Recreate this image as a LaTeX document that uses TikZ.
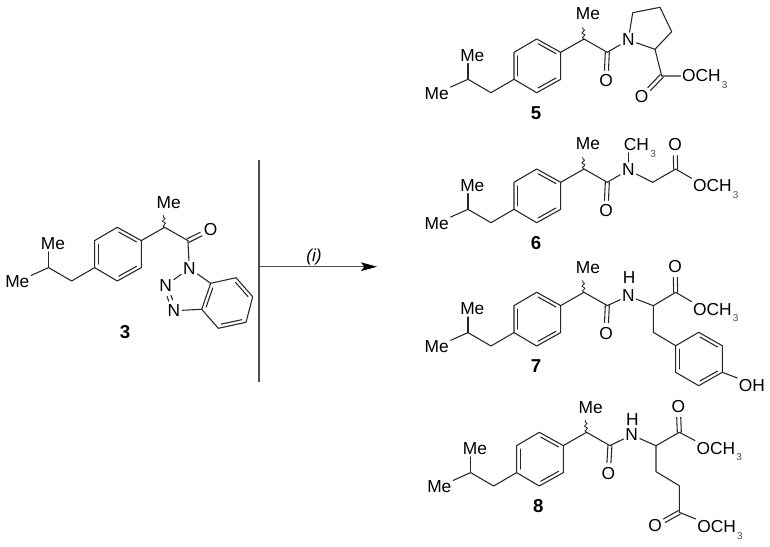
\documentclass[tikz,border=0pt]{standalone}
\usepackage{fontspec}
\setmainfont{Liberation Sans}
\usetikzlibrary{calc,arrows.meta,decorations.pathmorphing}
\tikzset{
  x=0.75pt,y=-0.75pt,
  bond/.style={draw=black!85,line width=0.8pt,line cap=round,line join=round},
  atom/.style={font=\fontsize{13}{14}\selectfont,inner sep=1.2pt,text=black},
  ome/.style={atom,anchor=west,inner sep=1pt},
  cmpd/.style={font=\fontsize{14}{15}\selectfont\bfseries,inner sep=0pt,text=black},
  wavy/.style={bond,line width=0.6pt,decorate,decoration={snake,amplitude=1.1pt,segment length=3.6pt}},
  skel/.pic={
    \coordinate (-r1) at (0,0);
    \coordinate (-r2) at (24,13.3);
    \coordinate (-r3) at (24,40.3);
    \coordinate (-r4) at (0,53.7);
    \coordinate (-r5) at (-22.7,40.3);
    \coordinate (-r6) at (-22.7,13.3);
    \coordinate (-ch2) at (-45.7,53.7);
    \coordinate (-ich) at (-68.7,40.3);
    \coordinate (-ch) at (47.3,0);
    \coordinate (-cc) at (70.6,13.3);
    \coordinate (-w) at (46,-12);
    \node[atom] (-meT) at (-64.4,16.7) {Me};
    \node[atom] (-meL) at (-100,54.3) {Me};
    \node[atom] (-me) at (51.3,-25) {Me};
    \draw[bond] (-r1)--(-r2)--(-r3)--(-r4)--(-r5)--(-r6)--cycle;
    \rdbl{-r1}{-r2}\rdbl{-r3}{-r4}\rdbl{-r5}{-r6}
    \draw[bond] (-r5)--(-ch2)--(-ich)--(-meL);
    \draw[bond] (-ich)--(-ich |- -meT.south);
    \draw[bond] (-r2)--(-ch)--(-cc);
    \draw[wavy] (-ch)--(-w);
  }
}
\newcommand\OMe{OCH\kern1pt\smash{\raisebox{-5pt}{\fontsize{7.5}{8}\selectfont\color{black!70}3}}}
% inner line of a ring double bond, for a ring walked clockwise on the page
\newcommand\rdbl[2]{\draw[bond] ($(#1)!.13!(#2)!2.6pt!-90:(#2)$)--($(#2)!.13!(#1)!2.6pt!90:(#1)$);}
% symmetric double bond ending at a heteroatom
\newcommand\odbl[3][]{%
  \draw[bond,shorten >=8pt,#1] ($(#2.center)!1.5pt!90:(#3.center)$)--($(#3.center)!1.5pt!-90:(#2.center)$);
  \draw[bond,shorten >=8pt,#1] ($(#2.center)!1.5pt!-90:(#3.center)$)--($(#3.center)!1.5pt!90:(#2.center)$);}
\begin{document}
\begin{tikzpicture}
\useasboundingbox (0,0) rectangle (770,546);
% reaction
\coordinate (vt) at (259,160);
\coordinate (vb) at (259,382);
\coordinate (as) at (260,266.7);
\coordinate (ae) at (377,266.7);
\draw[draw=black!70,line width=1pt] (vt)--(vb);
\draw[draw=black!70,line width=0.9pt,-{Stealth[length=12pt,width=6.5pt,inset=2.5pt,black]}] (as)--(ae);
\node[atom,font=\fontsize{13}{14}\selectfont\itshape] (cond) at (314,257.3) {(i)};
% compound 3
\pic (a) at (117.3,227.3) {skel};
\node[atom] (aO) at (210.7,229.3) {O};
\node[atom] (aN1) at (189.3,268.3) {N};
\node[atom] (aN2) at (165.7,285.7) {N};
\node[atom] (aN3) at (174,310.7) {N};
\coordinate (a3a) at (201.7,309.3);
\coordinate (a7a) at (210.7,283.3);
\coordinate (a7) at (236,277.7);
\coordinate (a6) at (252.7,296.7);
\coordinate (a5) at (246,322.3);
\coordinate (a4) at (218.3,328.3);
\odbl{a-cc}{aO}
\draw[bond] (a-cc)--(aN1);
\draw[bond] (aN1)--(aN2);
\odbl[shorten <=8pt]{aN2}{aN3}
\draw[bond] (aN3)--(a3a);
\draw[bond] (aN1)--(a7a);
\draw[bond] (a3a)--(a7a)--(a7)--(a6)--(a5)--(a4)--cycle;
\rdbl{a3a}{a7a}\rdbl{a7}{a6}\rdbl{a5}{a4}
\node[cmpd] (a3) at (125,332.3) {3};
% compound 5
\pic (b) at (536.7,39) {skel};
\node[atom] (bO) at (606,81) {O};
\node[atom] (bN) at (628.3,40) {N};
\coordinate (bp1) at (632.7,12.7);
\coordinate (bp2) at (660,7.3);
\coordinate (bp3) at (671.7,31.7);
\coordinate (bp4) at (655,49.3);
\coordinate (bc) at (661.7,76);
\node[atom] (bO2) at (641.7,96.7) {O};
\node[ome] (bOMe) at (680.5,76) {\OMe};
\odbl{b-cc}{bO}
\draw[bond] (b-cc)--(bN);
\draw[bond] (bN)--(bp1)--(bp2)--(bp3)--(bp4)--(bN);
\draw[bond] (bp4)--(bc)--(bOMe.west);
\odbl{bc}{bO2}
\node[cmpd] (b5) at (536,112.7) {5};
% compound 6
\pic (c) at (536.7,169) {skel};
\node[atom] (cO) at (606,211) {O};
\node[atom] (cN) at (628.3,170) {N};
\node[ome,anchor=west] (cMe) at (622.3,145) {CH\kern1pt\smash{\raisebox{-5pt}{\fontsize{7.5}{8}\selectfont\color{black!70}3}}};
\coordinate (cMb) at (628.3,153);
\coordinate (cc2) at (652.7,182.3);
\coordinate (cc3) at (675.7,169);
\node[atom] (cO2) at (675,145) {O};
\node[ome] (cOMe) at (691.5,186) {\OMe};
\odbl{c-cc}{cO}
\draw[bond] (c-cc)--(cN);
\draw[bond] (cN)--(cMb);
\draw[bond] (cN)--(cc2)--(cc3)--(cOMe.north west);
\odbl{cc3}{cO2}
\node[cmpd] (c6) at (536,243.3) {6};
% compound 7
\pic (d) at (536.7,292.3) {skel};
\node[atom] (dO) at (606,333.3) {O};
\node[atom] (dN) at (628.3,296) {N};
\node[atom] (dH) at (629,277.3) {H};
\coordinate (dca) at (653.3,305.7);
\coordinate (dc3) at (675.7,292.3);
\node[atom] (dO2) at (675,266.7) {O};
\node[ome] (dOMe) at (691.5,309.3) {\OMe};
\coordinate (dc2) at (653.3,332.3);
\coordinate (dt1) at (675.7,345.7);
\coordinate (dt2) at (698.7,332.3);
\coordinate (dt3) at (722.3,345.7);
\coordinate (dt4) at (722.3,372.3);
\coordinate (dt5) at (698.7,385.7);
\coordinate (dt6) at (675.7,372.3);
\node[ome] (dOH) at (737.2,385.7) {OH};
\odbl{d-cc}{dO}
\draw[bond] (d-cc)--(dN);
\draw[bond] (dN)--(dca)--(dc3)--(dOMe.north west);
\odbl{dc3}{dO2}
\draw[bond] (dca)--(dc2)--(dt1);
\draw[bond] (dt1)--(dt2)--(dt3)--(dt4)--(dt5)--(dt6)--cycle;
\rdbl{dt2}{dt3}\rdbl{dt4}{dt5}\rdbl{dt6}{dt1}
\draw[bond] (dt4)--(dOH.north west);
\node[cmpd] (d7) at (536,366) {7};
% compound 8
\pic (e) at (539.3,432.3) {skel};
\node[atom] (eO) at (608.3,473.3) {O};
\node[atom] (eN) at (631.7,435) {N};
\node[atom] (eH) at (632.3,419.3) {H};
\coordinate (eca) at (656,445.7);
\coordinate (ec3) at (679.3,432.3);
\node[atom] (eO2) at (678.3,406.7) {O};
\node[ome] (eOMe) at (695,448.3) {\OMe};
\coordinate (ec2) at (656,471.7);
\coordinate (ec1) at (679.3,485.7);
\coordinate (ec4) at (679.3,512.3);
\node[atom] (eO3) at (655,526) {O};
\node[ome] (eOMe2) at (695.7,526.7) {\OMe};
\odbl{e-cc}{eO}
\draw[bond] (e-cc)--(eN);
\draw[bond] (eN)--(eca)--(ec3)--(eOMe.north west);
\odbl{ec3}{eO2}
\draw[bond] (eca)--(ec2)--(ec1)--(ec4)--(eOMe2.north west);
\odbl{ec4}{eO3}
\node[cmpd] (e8) at (538.3,505.7) {8};
\end{tikzpicture}
\end{document}
